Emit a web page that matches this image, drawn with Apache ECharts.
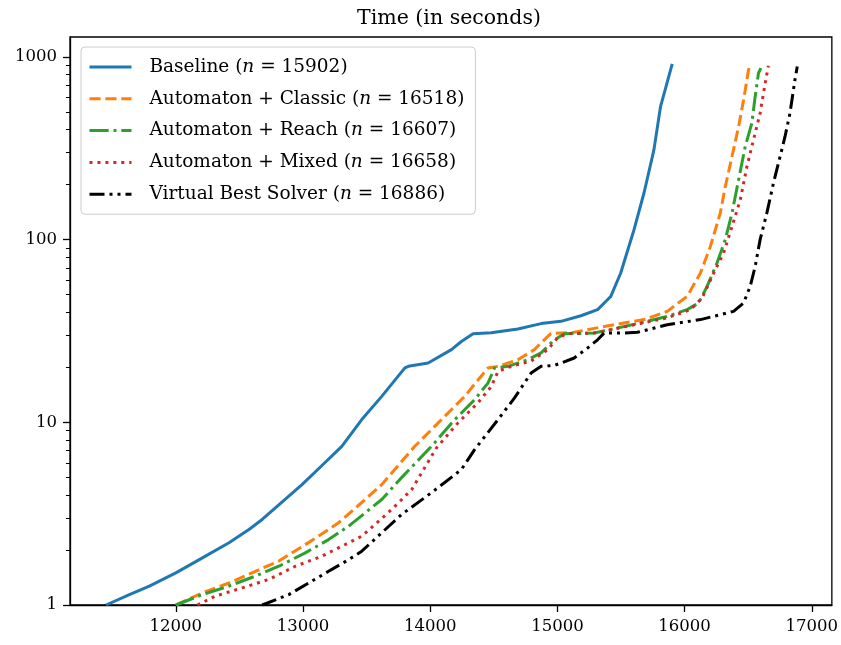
<!DOCTYPE html>
<html>
<head>
<meta charset="utf-8">
<script src="https://cdn.jsdelivr.net/npm/echarts@6/dist/echarts.min.js"></script>
<style>html,body{margin:0;padding:0;background:#fff}#c{width:841px;height:645px}</style>
</head>
<body>
<div id="c"></div>
<script>
const seriesNames = ['Baseline', 'Automaton + Classic', 'Automaton + Reach', 'Automaton + Mixed', 'Virtual Best Solver'];
const solvedCounts = [15902, 16518, 16607, 16658, 16886];

const baselineX = [11452,11635,11792,12000,12209,12418,12575,12679,12992,13149,13305,13462,13619,13801,13828,13984,14167,14245,14337,14480,14689,14872,15028,15185,15316,15394,15420,15498,15602,15681,15759,15811,15903];
const baselineY = [1.0,1.14,1.27,1.50,1.81,2.19,2.59,2.94,4.56,5.80,7.39,10.35,13.87,19.85,20.25,21.13,25.0,27.7,30.5,30.9,32.4,34.7,35.7,38.3,41.4,46.9,48.9,65.7,113,180,310,535,917];

const classicX = [12000,12209,12418,12626,12810,13018,13201,13280,13462,13619,13775,13879,14063,14271,14454,14533,14689,14819,14924,14950,15132,15342,15524,15681,15864,16020,16125,16203,16281,16320,16373,16425,16464,16503,16516];
const classicY = [1.0,1.166,1.32,1.53,1.74,2.14,2.59,2.82,3.64,4.56,6.10,7.39,9.93,13.87,19.85,20.25,22.0,25.0,29.5,30.6,31.1,33.2,35.0,36.5,40.5,48.9,65.7,91.8,140,195,285,416,582,850,905];

const reachX = [12000,12209,12418,12626,12810,13018,13201,13358,13619,13775,14010,14193,14349,14454,14506,14611,14767,14872,14976,15054,15289,15472,15629,15864,16020,16111,16177,16255,16320,16373,16425,16477,16529,16555,16581,16600];
const reachY = [1.0,1.14,1.27,1.44,1.63,1.93,2.28,2.70,3.78,4.98,7.39,10.35,13.3,16.4,19.85,20.25,22.0,24.0,28.3,30.5,30.8,32.8,34.7,38.0,41.4,45.0,55.5,74.5,100,140,213,324,434,607,815,868];

const mixedX = [12170,12313,12522,12731,12940,13149,13358,13462,13697,13854,14049,14219,14376,14480,14533,14637,14793,14924,15002,15081,15289,15420,15602,15864,16046,16138,16229,16307,16373,16438,16490,16542,16594,16634,16659];
const mixedY = [1.0,1.12,1.24,1.38,1.63,1.85,2.19,2.38,3.33,4.28,7.24,9.93,12.8,15.7,19.0,20.25,21.6,25.0,29.0,30.6,30.8,32.1,34.2,37.3,41.4,47.9,65.7,84.5,118,165,251,352,493,719,894];

const vbsX = [12679,12888,13045,13201,13358,13462,13775,14010,14245,14349,14533,14663,14793,14872,14976,15028,15132,15237,15316,15367,15524,15629,15864,16125,16385,16464,16516,16555,16594,16647,16699,16751,16790,16829,16868,16886];
const vbsY = [1.0,1.14,1.32,1.53,1.77,1.97,3.13,4.12,5.51,7.09,10.35,13.6,18.6,20.25,20.5,21.1,22.5,25.5,28.3,30.8,30.8,31.1,34.2,36.5,40.5,45.0,55.5,71.3,100,140,204,285,367,493,750,887];

const xTickValues = [12000, 13000, 14000, 15000, 16000, 17000];
const yTickValues = [1, 10, 100, 1000];
const yMinorTickValues = [2,3,4,5,6,7,8,9,20,30,40,50,60,70,80,90,200,300,400,500,600,700,800,900];

const FONT = "'DejaVu Serif', 'Liberation Serif', serif";
const colors = ['#1f77b4', '#ff7f0e', '#2ca02c', '#d62728', '#000000'];
const dashes = ['solid', [11.1, 4.8], [19.2, 4.8, 3, 4.8], [3, 4.95], [15, 5, 3, 5, 3, 5]];
const xs = [baselineX, classicX, reachX, mixedX, vbsX];
const ys = [baselineY, classicY, reachY, mixedY, vbsY];

const zip = (a, b) => a.map((v, i) => [v, b[i]]);
const plain = (v) => String(Math.round(v));

const chart = echarts.init(document.getElementById('c'), null, {renderer: 'canvas'});
const option = {
  animation: false,
  backgroundColor: '#fff',
  title: {
    text: 'Time (in seconds)',
    left: 444, top: 3, textAlign: 'center',
    textStyle: {fontFamily: FONT, fontSize: 20.5, fontWeight: 'normal', color: '#000'}
  },
  grid: {left: 70, right: 9, top: 37, bottom: 40, show: true, borderColor: '#000', borderWidth: 1.3, backgroundColor: 'transparent'},
  xAxis: {
    type: 'value', min: 11168, max: 17158,
    splitLine: {show: false},
    axisLine: {show: true, lineStyle: {color: '#000', width: 1.3}},
    axisTick: {show: true, length: 7, lineStyle: {color: '#000', width: 1.3}, customValues: xTickValues},
    axisLabel: {customValues: xTickValues, formatter: plain, margin: 13, color: '#000', fontFamily: FONT, fontSize: 16.5}
  },
  yAxis: [{
    type: 'log', logBase: 10, min: 1, max: 1286, position: 'left',
    splitLine: {show: false},
    axisLine: {show: true, lineStyle: {color: '#000', width: 1.3}},
    axisTick: {show: true, length: 7, lineStyle: {color: '#000', width: 1.3}, customValues: yTickValues},
    axisLabel: {customValues: yTickValues, formatter: plain, margin: 13, color: '#000', fontFamily: FONT, fontSize: 16.5}
  }, {
    type: 'log', logBase: 10, min: 1, max: 1286, position: 'left', offset: 0,
    splitLine: {show: false},
    axisLine: {show: false},
    axisTick: {show: true, length: 4, lineStyle: {color: '#000', width: 1}, customValues: yMinorTickValues},
    axisLabel: {show: false}
  }],
  legend: {
    orient: 'vertical', left: 81, top: 47,
    padding: [8, 11, 8, 7],
    itemWidth: 42, itemHeight: 14, itemGap: 7.8,
    backgroundColor: 'rgba(255,255,255,0.8)', borderColor: '#cccccc', borderWidth: 1, borderRadius: 4,
    itemStyle: {color: 'rgba(0,0,0,0)', borderWidth: 0, opacity: 0},
    lineStyle: {width: 3},
    data: seriesNames,
    formatter: (name) => {
      const i = seriesNames.indexOf(name);
      return name + ' ({i|n} = ' + solvedCounts[i] + ')';
    },
    textStyle: {
      fontFamily: FONT, fontSize: 18.5, color: '#000', lineHeight: 24, padding: [0, 0, 0, 13],
      rich: {i: {fontFamily: FONT, fontSize: 18.5, fontStyle: 'italic', color: '#000', lineHeight: 24}}
    }
  },
  series: seriesNames.map((name, k) => ({
    name: name, type: 'line', yAxisIndex: 0,
    data: zip(xs[k], ys[k]),
    showSymbol: false, symbol: 'none',
    color: colors[k],
    lineStyle: {color: colors[k], width: 3, type: dashes[k], cap: 'butt', join: 'round'},
    z: 2 + k
  }))
};
chart.setOption(option);
</script>
</body>
</html>
